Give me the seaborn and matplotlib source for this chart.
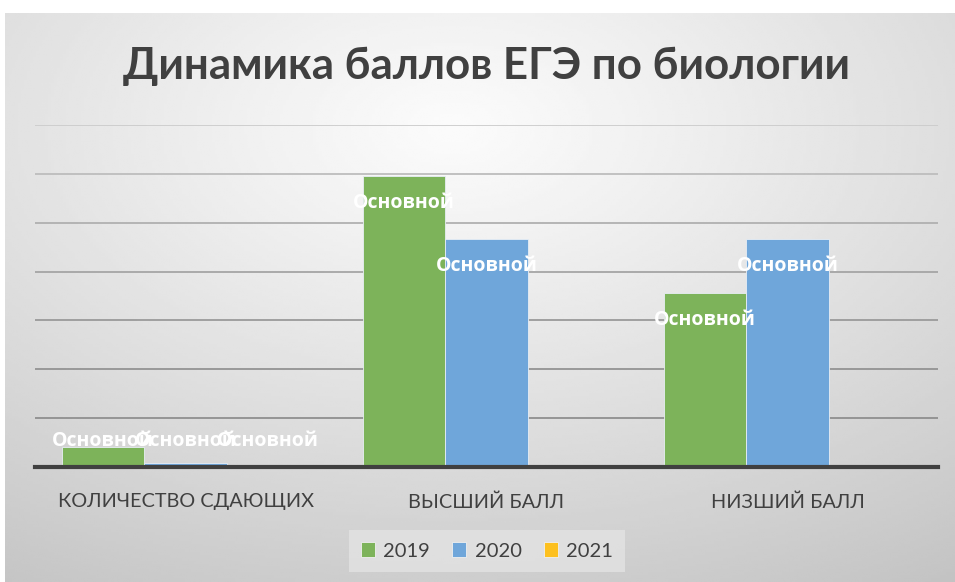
import numpy as np
import pandas as pd
import seaborn as sns
import matplotlib.pyplot as plt

# ------------------------------
# данные (шаг сетки = 10)
# ------------------------------
categories = ['КОЛИЧЕСТВО СДАЮЩИХ', 'ВЫСШИЙ БАЛЛ', 'НИЗШИЙ БАЛЛ']
years = ['2019', '2020', '2021']
values_2019 = [4.1, 59.6, 35.7]
values_2020 = [0.8, 46.7, 46.7]
values_2021 = [0.0, np.nan, np.nan]
bar_label = 'Основной'

colors = ['#7db35a', '#6fa6da', '#fdc01e']

df = pd.DataFrame({
    'cat': categories * 3,
    'year': [y for y in years for _ in categories],
    'val': values_2019 + values_2020 + values_2021,
})

sns.set_theme(style='white')
plt.rcParams['font.family'] = ['Lato', 'DejaVu Sans']

W, H = 955, 582
fig = plt.figure(figsize=(W / 100, H / 100), dpi=100)
fig.patch.set_facecolor('white')

# ------------------------------
# фон с радиальным градиентом
# ------------------------------
bg = fig.add_axes([5 / W, 0, 1 - 5 / W, 1 - 13 / H])
yy, xx = np.mgrid[0:200, 0:320]
cx, cy = 150, 40
r = np.sqrt(((xx - cx) / 320) ** 2 + ((yy - cy) / 200) ** 2)
r = np.clip(r / r.max(), 0, 1)
shade = 0.985 - 0.22 * r ** 1.1
bg.imshow(shade, cmap='gray', vmin=0, vmax=1, aspect='auto',
          extent=[0, 1, 0, 1], origin='upper', interpolation='bilinear')
bg.axis('off')
bg.set_zorder(-1)

# ------------------------------
# столбцы
# ------------------------------
ax = fig.add_axes([35 / W, 1 - 467 / H, 903 / W, (467 - 125) / H])
ax.patch.set_alpha(0)
sns.barplot(data=df, x='cat', y='val', hue='year', hue_order=years, palette=colors,
            width=0.82, gap=0, ax=ax, legend=False, saturation=1,
            edgecolor='#e8eef5', linewidth=0.6, zorder=3)

ax.set_xlim(-0.5, 2.5)
ax.set_ylim(0, 70)
ax.set_yticks(np.arange(0, 71, 10))
ax.set_yticklabels([])
ax.tick_params(axis='y', length=0)
ax.tick_params(axis='x', length=0, pad=19, labelsize=14.3, labelcolor='#404040')
ax.set_xlabel('')
ax.set_ylabel('')
for s in ['top', 'right', 'left']:
    ax.spines[s].set_visible(False)
ax.spines['bottom'].set_color('#404040')
ax.spines['bottom'].set_linewidth(3)
ax.spines['bottom'].set_zorder(4)

grid_colors = ['#8f8f8f', '#939393', '#9a9a9a', '#a5a5a5', '#b0b0b0', '#bdbdbd', '#cccccc']
for yv, c in zip(range(10, 71, 10), grid_colors):
    ax.axhline(yv, color=c, linewidth=1.3, zorder=1)

# подписи на столбцах (перекрываются, как в оригинале)
for cont in ax.containers:
    for bar in cont:
        h = bar.get_height()
        if np.isnan(h):
            continue
        xc = bar.get_x() + bar.get_width() / 2
        ax.text(xc, max(h - 5.6, 5.3), bar_label, ha='center', va='center',
                color='white', fontsize=14, fontweight='bold', zorder=5,
                family=['Open Sans', 'DejaVu Sans'])

# ------------------------------
# заголовок и легенда
# ------------------------------
fig.text(486 / W, 1 - 66 / H, 'Динамика баллов ЕГЭ по биологии', ha='center', va='center',
         fontsize=31.6, fontweight='bold', color='#404040')

handles = [plt.Rectangle((0, 0), 1, 1, facecolor=c, edgecolor='#f0f0f0', linewidth=0.6)
           for c in colors]
leg = fig.legend(handles, years, loc='center', bbox_to_anchor=(487 / W, 1 - 551 / H),
                 ncol=3, frameon=True, fontsize=14.5, handlelength=0.7, handleheight=0.7,
                 handletextpad=0.4, columnspacing=1.1, borderpad=0.6, fancybox=False)
leg.get_frame().set_facecolor('#e3e3e3')
leg.get_frame().set_edgecolor('none')
for t in leg.get_texts():
    t.set_color('#404040')

fig.savefig('out.png', dpi=100)
